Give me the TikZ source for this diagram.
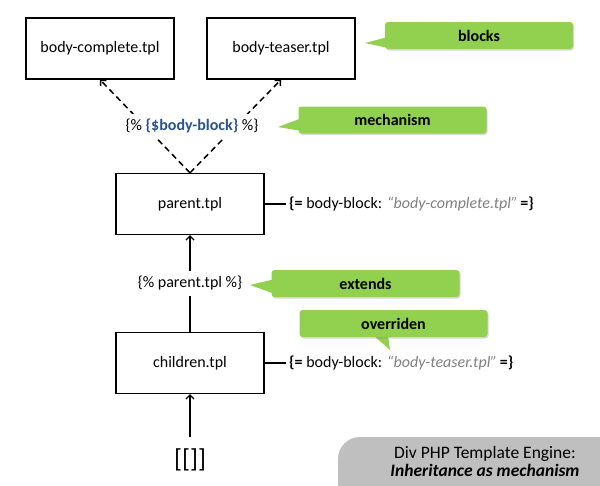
\documentclass[tikz,border=0pt]{standalone}
\usepackage{fontspec}
\setmainfont{Carlito}
\usetikzlibrary{arrows.meta,positioning,calc,shadows}
\definecolor{noteGreen}{RGB}{146,208,80}
\definecolor{blockBlue}{RGB}{41,84,140}
\definecolor{quoteGray}{RGB}{128,128,128}
\definecolor{titleGray}{RGB}{191,191,191}

\begin{document}
\begin{tikzpicture}[x=1pt, y=-1pt,
    tpl/.style={draw, line width=1.3pt, minimum width=148pt, minimum height=61pt, font=\fontsize{16}{19}\selectfont},
    note/.style={fill=noteGreen, rounded corners=3pt, minimum width=188pt, minimum height=27pt, inner sep=0pt,
      font=\fontsize{16}{19}\selectfont\bfseries, drop shadow={shadow xshift=1pt, shadow yshift=-1.5pt, opacity=0.3}},
    code/.style={fill=white, inner xsep=3pt, inner ysep=5pt, font=\fontsize{16}{19}\selectfont},
    tag/.style={anchor=west, inner sep=3pt, font=\fontsize{16}{19}\selectfont},
    dasharrow/.style={line width=1.5pt, dash pattern=on 6pt off 4pt, -{Straight Barb[length=4pt, width=8pt]}},
    uparrow/.style={line width=1.3pt, -{Straight Barb[length=4pt, width=8pt]}}]
  \useasboundingbox (0,0) rectangle (600,485);
  % template files
  \node[tpl] (complete) at (100,48.5) {body-complete.tpl};
  \node[tpl] (teaser) at (281,48.5) {body-teaser.tpl};
  \node[tpl] (parent) at (190,204) {parent.tpl};
  \node[tpl] (children) at (190,363) {children.tpl};
  \node[font=\fontsize{26}{30}\selectfont, inner xsep=0pt, inner ysep=12pt] (root) at (190,460) {[[]]};
  % block lookup and inheritance
  \draw[dasharrow] (parent.north) -- (complete.south);
  \draw[dasharrow] (parent.north) -- (teaser.south);
  \draw[uparrow] (children.north) -- (parent.south);
  \draw[uparrow] (root.north) -- (children.south);
  \node[code] (blockref) at (192,126) {\{\% {\color{blockBlue}\bfseries\{\$body-block\}} \%\}};
  \node[code] (extendref) at (190,283.5) {\{\% parent.tpl \%\}};
  % block values
  \node[tag] (parentdef) at (286,204)
    {\textbf{\{=} body-block: {\color{quoteGray}\itshape “body-complete.tpl”}\,\textbf{=\}}};
  \node[tag] (childdef) at (286,363)
    {\textbf{\{=} body-block: {\color{quoteGray}\itshape “body-teaser.tpl”}\,\textbf{=\}}};
  \draw[line width=1.3pt] (parent.east) -- (parentdef.west);
  \draw[line width=1.3pt] (children.east) -- (childdef.west);
  % green notes
  \coordinate (blockstip) at (365,43);
  \coordinate (mechtip) at (278,127);
  \coordinate (extendstip) at (250,285);
  \coordinate (overtip) at (390,350);
  \fill[noteGreen] (blockstip) -- (388,37) -- (388,48) -- cycle;
  \fill[noteGreen] (mechtip) -- (302,118) -- (302,131) -- cycle;
  \fill[noteGreen] (extendstip) -- (275,279) -- (275,294) -- cycle;
  \fill[noteGreen] (overtip) -- (373,335) -- (388,335) -- cycle;
  \node[note] (blocks) at (479,35.5) {blocks};
  \node[note] (mech) at (392.5,120) {mechanism};
  \node[note] (extends) at (365.5,283.5) {extends};
  \node[note] (overriden) at (393.5,323.5) {overriden};
  % title corner
  \fill[titleGray, rounded corners=22pt] (338,437) rectangle (640,525);
  \node[align=center, font=\fontsize{17.5}{18}\selectfont] (title) at (485,461)
    {Div PHP Template Engine:\\\textbf{\textit{Inheritance as mechanism}}};
\end{tikzpicture}
\end{document}
